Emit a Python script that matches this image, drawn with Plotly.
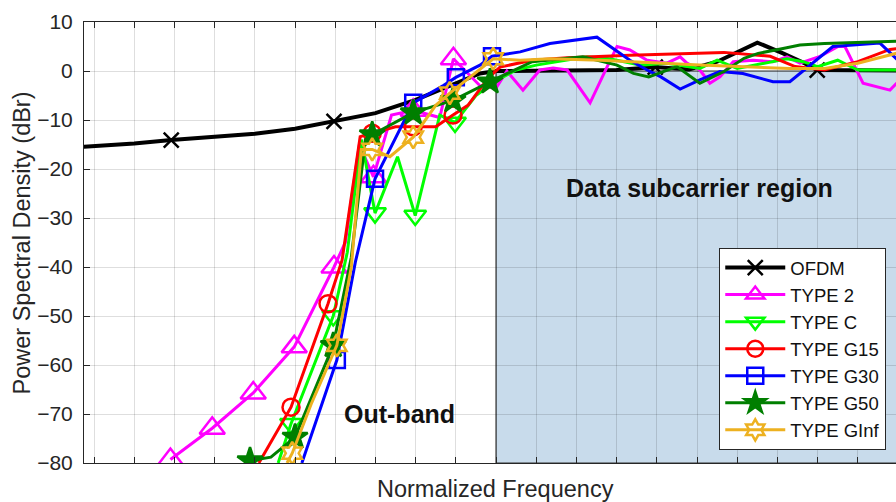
import plotly.graph_objects as go

# ---------------- data (x = normalized frequency, grid units; y = dBr) ----------------
ofdm_x = [-10.5, -9.0, -8.08, -7.0, -6.0, -5.0, -4.03, -3.0, -2.0, -1.0, -0.4, 0.0, 1.0, 2.0, 3.0,
          3.96, 4.8, 5.5, 6.5, 7.14, 7.6, 7.99, 9.0, 10.05]
ofdm_y = [-15.6, -14.8, -14.1, -13.5, -12.8, -11.8, -10.3, -8.6, -5.9, -2.4, -0.5, 0.0, 0.1, 0.1, 0.2,
          0.8, 0.3, 1.9, 5.8, 3.6, 1.9, 0.2, 0.1, 0.1]
ofdm_m = [-8.08, -4.03, 3.96, 7.99]

t2_x = [-8.1, -7.06, -6.04, -5.02, -4.03, -3.75, -3.4, -3.05, -2.6, -2.06, -1.4, -1.06, -0.4, 0.0,
        0.27, 0.67, 1.09, 1.42, 1.77, 2.34, 2.76, 3.01, 3.33, 3.76, 4.25, 4.58, 4.75, 5.07, 5.32,
        5.57, 5.9, 6.39, 6.89, 7.24, 7.56, 8.06, 8.51, 8.68, 9.13, 9.8, 10.05]
t2_y = [-79.3, -72.9, -65.7, -56.3, -40, -35, -15, -21.6, -9, -8, -9.5, 2.5, -3, -3.5,
        0, -3.9, 0.2, 0.6, 0.2, -6.5, 0.8, 5.0, 4.3, 2.2, 1.6, 2.9, 1.6, 0.2, -2.5,
        -1.2, 1.9, 2.2, 1.9, 2.9, 1.6, 3.0, 5.0, 5.0, -2.5, -3.9, -1.8]
t2_m = [-8.1, -7.06, -6.04, -5.02, -4.03, -3.05, -2.06, -1.06]

tc_x = [-5.42, -5.1, -4.05, -3.7, -3.35, -3.01, -2.45, -2.01, -1.4, -1.02, -0.5, 0.0, 0.5, 1.0,
        2.26, 2.83, 3.6, 4.25, 5.07, 5.5, 6.0, 7.24, 7.64, 8.0, 8.5, 9.0, 10.05]
tc_y = [-80, -72, -50, -37, -14, -29, -17.5, -29.5, -9, -10.5, -5, -2, 0.2, 1.2,
        2.9, 2.5, 1.2, 1.6, 0.5, 2.2, 0.5, 2.5, 1.9, 0.9, 2.2, 0.2, 0.2]
tc_m = [-5.1, -4.05, -3.01, -2.01, -1.02]

g15_x = [-5.9, -5.1, -4.18, -3.83, -3.38, -3.08, -2.5, -2.06, -1.5, -1.07, -0.7, -0.2, 0.1, 0.9,
         1.77, 3.33, 5.07, 5.67, 6.82, 7.44, 8.17, 9.0, 9.8, 10.05]
g15_y = [-80, -68.6, -47.5, -38.6, -13.4, -12.7, -11.4, -11.4, -11.4, -9, -7, -1.5, 0.8, 2.2,
         2.7, 3.2, 3.7, 3.8, 3.0, 0.9, 0.2, 1.9, 4.4, 4.6]
g15_m = [-5.1, -4.18, -3.08, -2.06, -1.07]

g30_x = [-4.83, -3.96, -3.5, -3.01, -2.06, -1.3, -1.0, -0.4, -0.1, 0.6, 1.34, 2.51, 3.33, 3.76,
         4.1, 4.58, 5.07, 5.57, 6.14, 6.89, 7.31, 7.89, 8.38, 8.88, 9.55, 10.0]
g30_y = [-80, -59, -39, -22, -6.5, -2.9, -1.3, 1.2, 3.0, 3.9, 5.6, 6.9, 2.2, 0.2,
         -1.2, -3.7, -1.8, -0.1, -0.5, -2.2, -2.2, 1.6, 5.0, 5.3, 5.7, 2.2]
g30_m = [-3.96, -3.01, -2.06, -1.0, -0.1]

g50_x = [-6.12, -5.6, -5.0, -4.05, -3.6, -3.25, -3.08, -2.06, -1.07, -0.15, 0.1, 0.9, 2.16, 3.01,
         3.42, 3.8, 4.5, 5.07, 5.67, 6.17, 6.52, 7.14, 7.56, 8.17, 10.05]
g50_y = [-79.5, -78.8, -74.7, -56, -38, -14, -13, -8.5, -6, -2.2, -1.2, 1.9, 2.9, 1.2,
         -0.5, -1.2, 0.9, -2.5, -0.1, 2.6, 3.6, 4.6, 5.3, 5.6, 6.1]
g50_m = [-6.12, -5.0, -4.05, -3.08, -2.06, -1.07, -0.15]

ginf_x = [-5.2, -5.07, -4.6, -3.96, -3.6, -3.35, -3.08, -2.64, -2.06, -1.5, -1.15, -0.07, 0.6,
          1.35, 2.6, 5.07, 7.3, 8.17, 9.0, 10.05]
ginf_y = [-80, -78, -68, -56, -40, -16, -16, -17.5, -13.5, -7, -4.5, 2.5, 2.2,
          2.5, 2.2, 1.2, 0.5, 0.5, 1.6, 3.8]
ginf_m = [-5.07, -3.96, -3.08, -2.06, -1.15, -0.07]

series = [
    ("OFDM", ofdm_x, ofdm_y, ofdm_m, "#000000", "x-thin-open", 15, 4.0),
    ("TYPE 2", t2_x, t2_y, t2_m, "#FF00FF", "triangle-up-open", 22, 3.0),
    ("TYPE C", tc_x, tc_y, tc_m, "#00FF00", "triangle-down-open", 19, 3.0),
    ("TYPE G15", g15_x, g15_y, g15_m, "#FF0000", "circle-open", 17, 3.0),
    ("TYPE G30", g30_x, g30_y, g30_m, "#0000FF", "square-open", 16, 3.0),
    ("TYPE G50", g50_x, g50_y, g50_m, "#007F00", "star", 19, 3.0),
    ("TYPE GInf", ginf_x, ginf_y, ginf_m, "#EDB120", "hexagram-open", 17, 3.0),
]

FONT = "Arial, Liberation Sans, sans-serif"
AX = "#262626"

fig = go.Figure()
for name, xs, ys, ms, col, sym, sz, lw in series:
    fig.add_trace(go.Scatter(x=xs, y=ys, mode="lines", line=dict(color=col, width=lw),
                             legendgroup=name, showlegend=False, hoverinfo="skip"))
    mx, my = [], []
    for m in ms:
        i = xs.index(m)
        mx += [xs[i], None]
        my += [ys[i], None]
    fig.add_trace(go.Scatter(x=mx, y=my, mode="lines+markers", name=name, legendgroup=name,
                             connectgaps=False, line=dict(color=col, width=lw),
                             marker=dict(symbol=sym, size=sz, color=col,
                                         line=dict(color=col, width=2.5))))

fig.add_shape(type="rect", xref="x", yref="y", x0=0, x1=10.5, y0=-80, y1=0,
              fillcolor="rgb(200,219,235)", line=dict(color="#333333", width=1.2), layer="below")

fig.add_annotation(x=5.06, y=-23.9, xref="x", yref="y", text="<b>Data subcarrier region</b>",
                   showarrow=False, font=dict(family=FONT, size=25, color="#111111"))
fig.add_annotation(x=-2.39, y=-70, xref="x", yref="y", text="<b>Out-band</b>",
                   showarrow=False, font=dict(family=FONT, size=25, color="#111111"))
fig.add_annotation(x=0.507, y=-0.059, xref="paper", yref="paper", text="Normalized Frequency",
                   showarrow=False, yanchor="middle", xanchor="center",
                   font=dict(family=FONT, size=23.5, color=AX))
fig.add_annotation(x=-0.0764, y=0.5, xref="paper", yref="paper", text="Power Spectral Density (dBr)",
                   showarrow=False, textangle=-90, yanchor="middle", xanchor="center",
                   font=dict(family=FONT, size=23.5, color=AX))

fig.update_layout(
    width=896, height=502,
    margin=dict(l=84, r=0, t=22, b=39),
    paper_bgcolor="white", plot_bgcolor="white",
    font=dict(family=FONT, color=AX),
    legend=dict(x=0.988, xanchor="right", y=0.4875, yanchor="top",
                bgcolor="white", bordercolor=AX, borderwidth=1,
                font=dict(family=FONT, size=18.5, color="#111111"),
                itemwidth=60, tracegroupgap=0),
    xaxis=dict(range=[-10.25, 9.95], tick0=0, dtick=1, showticklabels=False,
               ticks="inside", ticklen=6, tickcolor=AX, showline=True, linecolor=AX,
               linewidth=1, mirror="ticks", showgrid=True, gridcolor="rgba(0,0,0,0.13)",
               zeroline=False),
    yaxis=dict(range=[-80, 10], tick0=0, dtick=10, ticks="inside", ticklen=6, tickcolor=AX,
               showline=True, linecolor=AX, linewidth=1, showgrid=True,
               gridcolor="rgba(0,0,0,0.13)", zeroline=False,
               tickfont=dict(family=FONT, size=21, color=AX), ticklabelstandoff=6),
)

fig.write_html("out.html")
